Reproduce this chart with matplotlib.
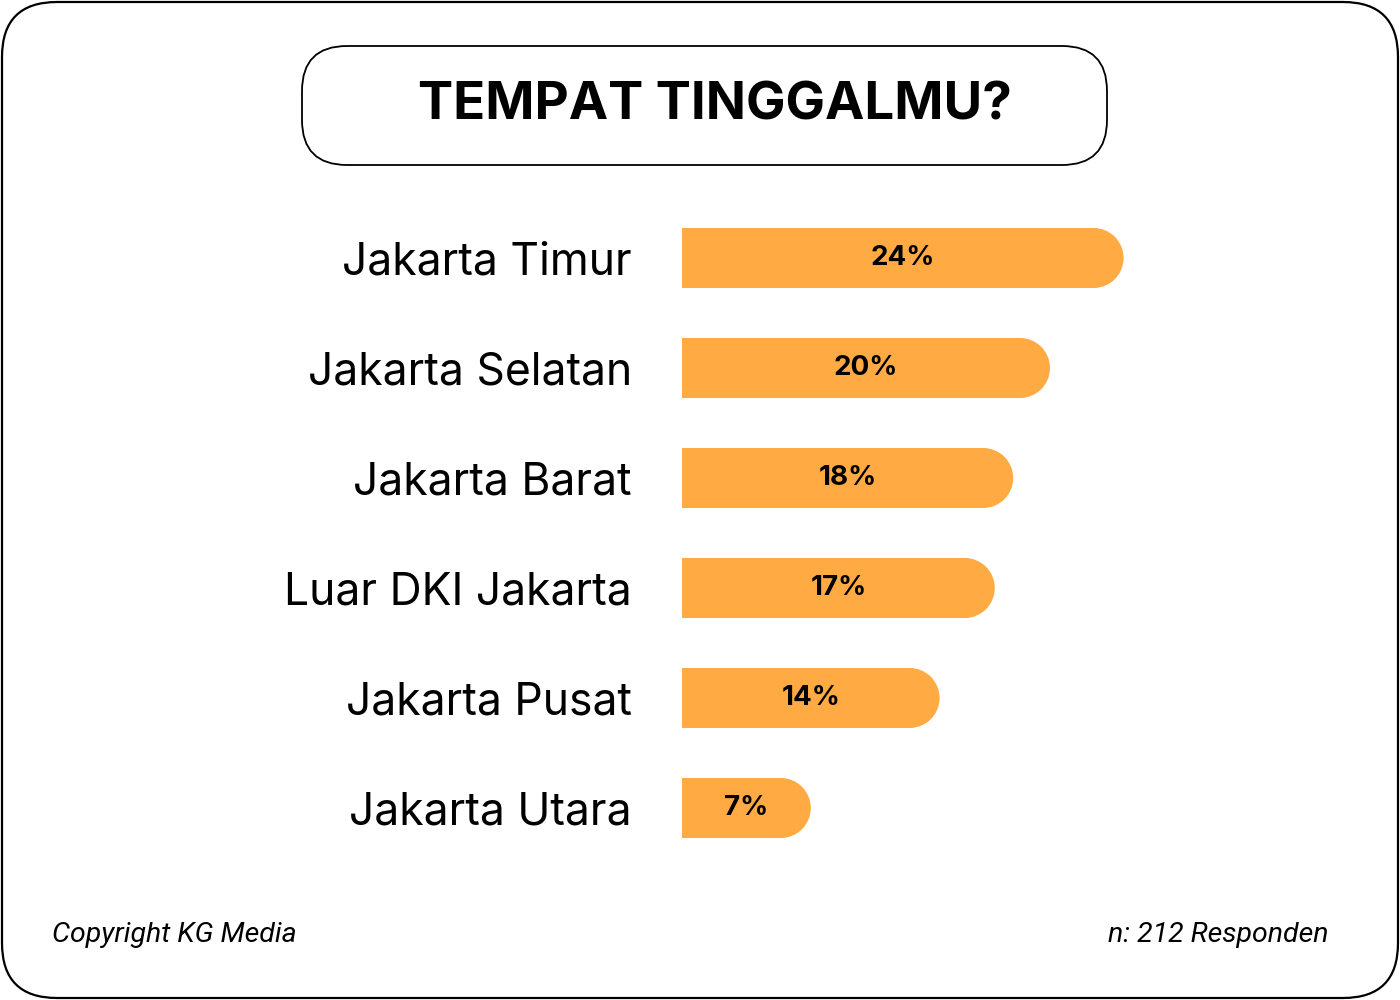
import matplotlib.pyplot as plt
from matplotlib.patches import Ellipse, FancyBboxPatch
import numpy as np

# survey answers, top to bottom
regions = [
    "Jakarta Timur",
    "Jakarta Selatan",
    "Jakarta Barat",
    "Luar DKI Jakarta",
    "Jakarta Pusat",
    "Jakarta Utara",
]
shares = [24, 20, 18, 17, 14, 7]
title = "TEMPAT TINGGALMU?"
footer_left = "Copyright KG Media"
footer_right = "n: 212 Responden"

BAR_COLOR = "#FFAA42"
W, H = 1400, 1000

fig = plt.figure(figsize=(14, 10), dpi=100)
fig.patch.set_facecolor("white")

# overlay in pixel units for the frame, title box and footer
bg = fig.add_axes([0, 0, 1, 1])
bg.set_xlim(0, W)
bg.set_ylim(H, 0)
bg.axis("off")
bg.add_patch(FancyBboxPatch((2, 2), W - 4, H - 4,
                            boxstyle="round,pad=0,rounding_size=55",
                            fc="white", ec="black", lw=1.6))
bg.add_patch(FancyBboxPatch((302, 46), 805, 119,
                            boxstyle="round,pad=0,rounding_size=45",
                            fc="none", ec="black", lw=1.3))
bg.text(715, 106, title, ha="center", va="center", fontsize=38,
        fontweight="bold", family="Inter")
bg.text(52, 942, footer_left, ha="left", va="baseline", fontsize=20.5,
        style="italic", family="Roboto")
bg.text(1328, 942, footer_right, ha="right", va="baseline", fontsize=20.5,
        style="italic", family="Roboto")

# bar axes: left edge at px 682, rows centred from px 258 to 808
px_per_unit = 18.4
xmax = 30
left_px, top_px, row_px = 682, 203, 110
ax = fig.add_axes([left_px / W, 1 - (top_px + row_px * len(regions)) / H,
                   xmax * px_per_unit / W, row_px * len(regions) / H])
ax.patch.set_alpha(0)
ax.set_xlim(0, xmax)
ax.set_ylim(len(regions) - 0.5, -0.5)

y = np.arange(len(regions))
bar_h = 60 / row_px
r = 30 / px_per_unit  # rounded end radius in data units
vals = np.array(shares, dtype=float)
ax.barh(y, vals - r, height=bar_h, color=BAR_COLOR, lw=0)
for yi, v in zip(y, vals):
    ax.add_patch(Ellipse((v - r, yi), 2 * r, bar_h, color=BAR_COLOR, lw=0))
    ax.text(v / 2, yi, f"{int(v)}%", ha="center", va="center",
            fontsize=20, fontweight="bold", family="Inter")

ax.set_yticks(y, regions, fontsize=32, family="Inter")
ax.tick_params(axis="y", length=0, pad=36)
ax.set_xticks([])
for s in ax.spines.values():
    s.set_visible(False)

fig.savefig("out.png", dpi=100)
